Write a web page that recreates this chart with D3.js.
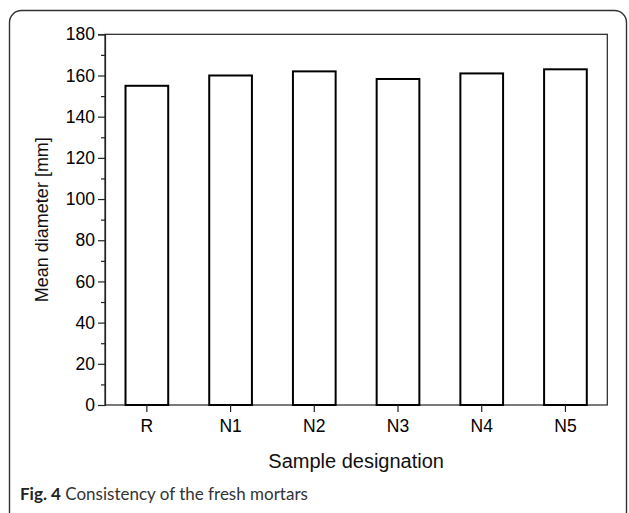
<!DOCTYPE html>
<html><head><meta charset="utf-8">
<script src="https://cdn.jsdelivr.net/npm/d3@7"></script>
<style>
html,body{margin:0;padding:0;background:#fff;}
svg{display:block;}
</style></head>
<body>
<svg id="c" width="629" height="513"></svg>
<script>
const categories = ["R","N1","N2","N3","N4","N5"];
const values = [155, 160, 162, 158.3, 161, 163];
const yTicks = [0,20,40,60,80,100,120,140,160,180];
const yMinorTicks = [10,30,50,70,90,110,130,150,170];
const xTitle = "Sample designation";
const yTitle = "Mean diameter [mm]";
const captionBold = "Fig. 4";
const captionText = " Consistency of the fresh mortars";

const svg = d3.select("#c");
const L = 105, R = 607.3, T = 34.3, B = 405;
const FONT = "Liberation Sans, Arial, sans-serif";

// outer rounded frame
svg.append("rect").attr("x",9.5).attr("y",10.5).attr("width",617).attr("height",520)
  .attr("rx",12).attr("ry",12).attr("fill","none").attr("stroke","#333").attr("stroke-width",1.4);

const x = d3.scaleBand().domain(categories).range([L,R]).paddingInner(0.49).paddingOuter(0.245);
const y = d3.scaleLinear().domain([0,180]).range([B,T]);

// plot frame
svg.append("rect").attr("x",L).attr("y",T).attr("width",R-L).attr("height",B-T)
  .attr("fill","none").attr("stroke","#222").attr("stroke-width",1.2);

// bars
svg.append("g").selectAll("rect").data(values).join("rect")
  .attr("x",(d,i)=>x(categories[i]))
  .attr("y",d=>y(d))
  .attr("width",x.bandwidth())
  .attr("height",d=>y(0)-y(d))
  .attr("fill","#fff").attr("stroke","#000").attr("stroke-width",2);

// y axis
const yAxis = d3.axisLeft(y).tickValues(yTicks).tickSize(7).tickPadding(3).tickFormat(d3.format("d"));
const gy = svg.append("g").attr("transform",`translate(${L},0)`).call(yAxis);
gy.attr("font-family",FONT).attr("font-size",17.5);
gy.select(".domain").attr("stroke","#222").attr("stroke-width",1.2);
gy.selectAll(".tick line").attr("stroke","#222").attr("stroke-width",1.2);
gy.selectAll("text").attr("fill","#000");
const gym = svg.append("g").attr("transform",`translate(${L},0)`)
  .call(d3.axisLeft(y).tickValues(yMinorTicks).tickSize(4).tickFormat(""));
gym.select(".domain").remove();
gym.selectAll(".tick line").attr("stroke","#222").attr("stroke-width",1.2);

// x axis
const gx = svg.append("g").attr("transform",`translate(0,${B})`)
  .call(d3.axisBottom(x).tickSize(7).tickPadding(8).tickSizeOuter(0));
gx.attr("font-family",FONT).attr("font-size",17.5);
gx.select(".domain").remove();
gx.selectAll(".tick line").attr("stroke","#222").attr("stroke-width",1.2);
gx.selectAll("text").attr("fill","#000");

// titles
svg.append("text").attr("x",(L+R)/2).attr("y",468).attr("text-anchor","middle")
  .attr("font-family",FONT).attr("font-size",20).attr("fill","#111").text(xTitle);
svg.append("text").attr("transform",`translate(48,${(T+B)/2}) rotate(-90)`).attr("text-anchor","middle")
  .attr("font-family",FONT).attr("font-size",18).attr("fill","#111").text(yTitle);

// caption
const cap = svg.append("text").attr("x",20).attr("y",500)
  .attr("font-family","Lato, Open Sans, sans-serif").attr("font-size",17).attr("fill","#333");
cap.append("tspan").attr("font-weight","bold").attr("fill","#222").text(captionBold);
cap.append("tspan").text(captionText);
</script>
</body></html>
